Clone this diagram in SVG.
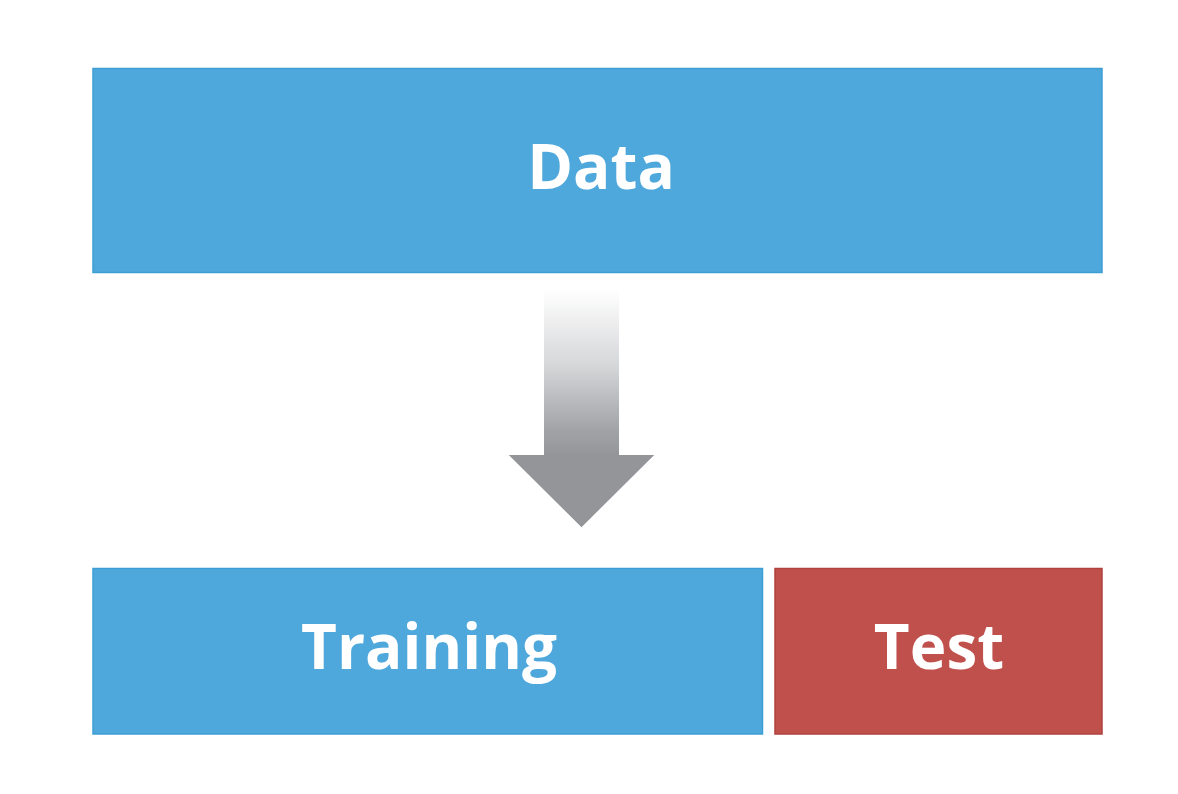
<svg xmlns="http://www.w3.org/2000/svg" width="1178" height="794" viewBox="0 0 1178 794">
<style>
.blue{fill:#4FA8DB;stroke:#3D9ED6;stroke-width:1.5}
.red{fill:#BF504C;stroke:#B0413D;stroke-width:1.5}
.lbl{font-family:"Open Sans","Liberation Sans",sans-serif;font-weight:700;font-size:62px;fill:#FFFFFF;text-anchor:middle}
</style>
<defs>
<linearGradient id="shaft" x1="0" y1="290" x2="0" y2="456" gradientUnits="userSpaceOnUse">
<stop offset="0" stop-color="#FFFFFF"/>
<stop offset="0.45" stop-color="#D6D7D9"/>
<stop offset="0.85" stop-color="#A0A2A5"/>
<stop offset="1" stop-color="#939598"/>
</linearGradient>
</defs>
<rect width="1178" height="794" fill="#FFFFFF"/>
<g id="data">
<rect class="blue" x="93" y="68.5" width="1009" height="204"/>
<text class="lbl" x="601" y="189">Data</text>
</g>
<g id="connectors">
<path d="M544,290 L619,290 L619,455 L654,455 L581.5,527 L509,455 L544,455 Z" fill="url(#shaft)"/>
<path d="M544,454 L619,454 L619,455 L654,455 L581.5,527 L509,455 L544,455 Z" fill="#939598"/>
</g>
<g id="training">
<rect class="blue" x="93" y="568.5" width="669.5" height="165.5"/>
<text class="lbl" x="429" y="669">Training</text>
</g>
<g id="test">
<rect class="red" x="775" y="568.5" width="327" height="165.5"/>
<text class="lbl" x="939" y="669">Test</text>
</g>
</svg>
